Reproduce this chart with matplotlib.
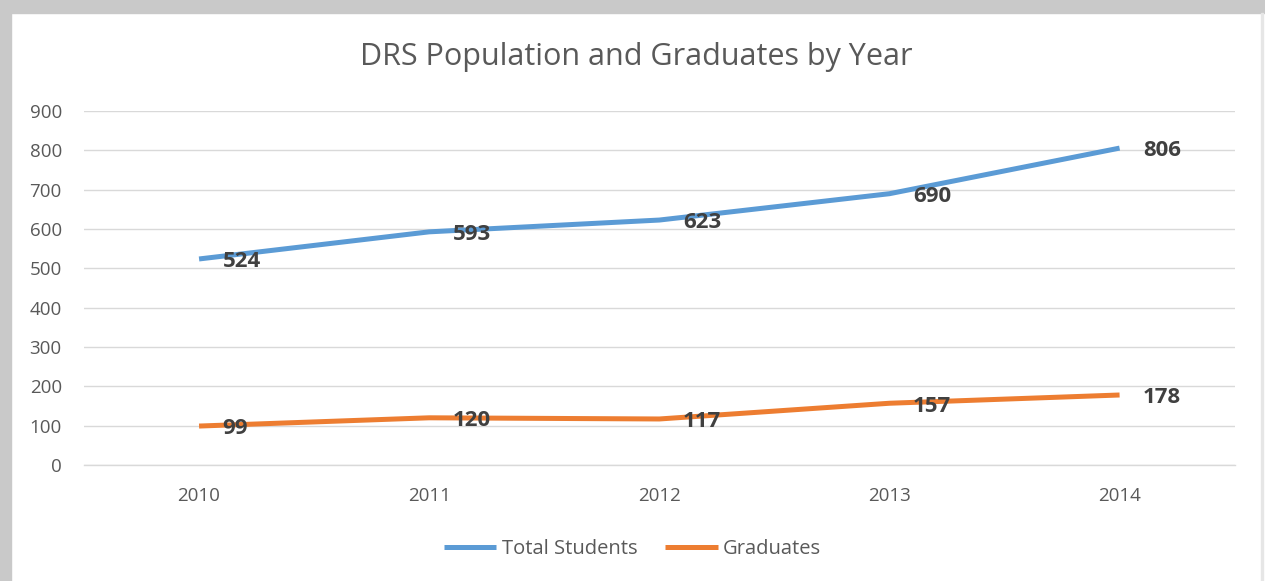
import matplotlib.pyplot as plt
from matplotlib.patches import Rectangle

years = ["2010", "2011", "2012", "2013", "2014"]
total_students = [524, 593, 623, 690, 806]
graduates = [99, 120, 117, 157, 178]
y_ticks = [0, 100, 200, 300, 400, 500, 600, 700, 800, 900]

plt.rcParams["font.family"] = ["Open Sans", "DejaVu Sans"]

fig = plt.figure(figsize=(12.65, 5.81), dpi=100)
ax = fig.add_axes([0.0664, 0.1997, 0.9096, 0.609])

# shadowed frame around the chart, like the screenshot
fig.patches.append(Rectangle((0, 1 - 13 / 581), 1, 13 / 581, transform=fig.transFigure,
                             color="#c9c9c9", zorder=0))
fig.patches.append(Rectangle((0, 0), 11 / 1265, 1, transform=fig.transFigure,
                             color="#c9c9c9", zorder=0))
fig.patches.append(Rectangle((1261 / 1265, 0), 2 / 1265, 1 - 13 / 581, transform=fig.transFigure,
                             color="#e6e6e6", zorder=0))

x = range(len(years))
blue = "#5B9BD5"
orange = "#ED7D31"
ax.plot(x, total_students, color=blue, lw=3.6, solid_capstyle="butt", label="Total Students", zorder=3)
ax.plot(x, graduates, color=orange, lw=3.6, solid_capstyle="butt", label="Graduates", zorder=3)

for series in (total_students, graduates):
    for i, v in enumerate(series):
        ax.annotate(str(v), (i, v), xytext=(17, -2), textcoords="offset points",
                    ha="left", va="center", fontsize=16, fontweight="bold", color="#404040", zorder=4)

ax.set_xlim(-0.5, len(years) - 0.5)
ax.set_ylim(0, 900)
ax.set_yticks(y_ticks)
ax.set_xticks(list(x))
ax.set_xticklabels(years)
ax.grid(axis="y", color="#d9d9d9", lw=1)
ax.axhline(0, color="#d9d9d9", lw=1, clip_on=False, zorder=0.5)
ax.set_axisbelow(True)
for s in ax.spines.values():
    s.set_visible(False)
ax.tick_params(length=0, colors="#595959", labelsize=13.5)
ax.tick_params(axis="y", pad=16)
ax.tick_params(axis="x", pad=16)

fig.text(0.503, 0.902, "DRS Population and Graduates by Year", ha="center", va="center",
         fontsize=22, color="#595959")

fig.legend(loc="center", bbox_to_anchor=(0.5, 0.055), ncol=2, frameon=False,
           fontsize=14.5, handlelength=2.6, columnspacing=1.4, handletextpad=0.25,
           labelcolor="#595959")

fig.savefig("out.png", dpi=100)
